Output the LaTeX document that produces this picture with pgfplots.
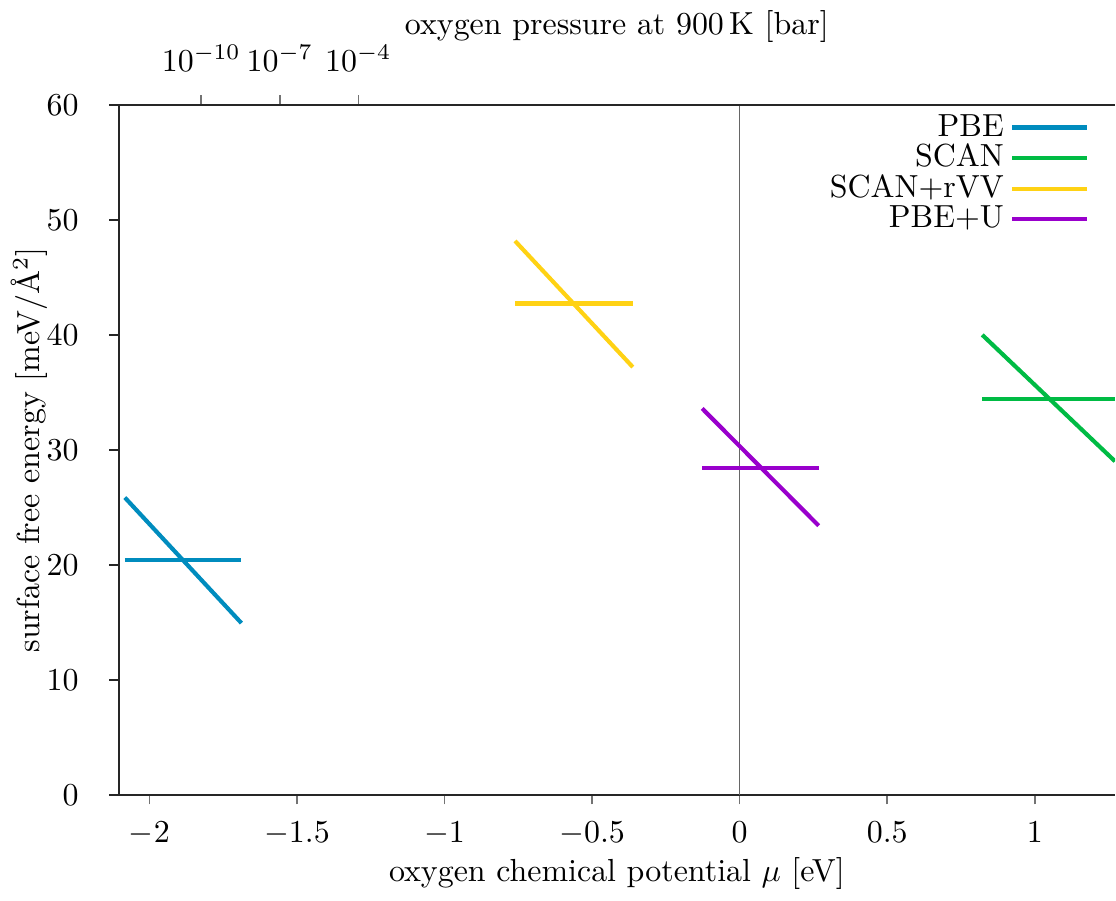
\documentclass[border=0pt]{standalone}
\usepackage{pgfplots}
\pgfplotsset{compat=1.18}
\definecolor{cPBE}{RGB}{0,140,190}
\definecolor{cSCAN}{RGB}{0,187,68}
\definecolor{cRVV}{RGB}{255,210,20}
\definecolor{cPBEU}{RGB}{153,0,204}
\begin{document}
\begin{tikzpicture}
\begin{axis}[
  name=main,
  width=312pt, height=216pt, scale only axis,
  xmin=-2.104, xmax=1.272, ymin=0, ymax=60,
  axis x line*=bottom, axis y line*=left,
  axis line style={black!85, line width=0.6pt},
  tick align=outside, tick style={black!55, line width=0.5pt},
  ytick style={black!85, line width=0.6pt},
  major tick length=3pt,
  xtick={-2,-1.5,-1,-0.5,0,0.5,1},
  ytick={0,10,20,30,40,50,60},
  xlabel={oxygen chemical potential $\mu$ [eV]},
  xlabel style={yshift=3pt},
  ylabel={surface free energy [meV/\AA$^2$]},
  ylabel style={yshift=-7pt},
  yticklabel style={xshift=-6pt},
  xticklabel style={yshift=-2pt},
  xticklabel={\pgfmathprintnumber[fixed]{\tick}},
  legend style={draw=none, fill=none, at={(0.984,1.006)}, anchor=north east, row sep=-3pt, font=\normalsize},
  legend cell align=right,
  legend plot pos=right,
  legend image code/.code={\draw[#1, line width=1.3pt] (0cm,0cm) -- (0.82cm,0cm);},
  every axis plot/.append style={line width=1.3pt},
  clip=true,
]
\addplot[black!60, line width=0.5pt, forget plot] coordinates {(0,0) (0,60)};
% PBE
\addplot[cPBE] coordinates {(-2.083,25.85) (-1.688,14.93)};
\addlegendentry{PBE}
% SCAN
\addplot[cSCAN] coordinates {(0.822,40.0) (1.272,29.0)};
\addlegendentry{SCAN}
% SCAN+rVV
\addplot[cRVV] coordinates {(-0.761,48.17) (-0.362,37.2)};
\addlegendentry{SCAN+rVV}
% PBE+U
\addplot[cPBEU] coordinates {(-0.127,33.6) (0.268,23.4)};
\addlegendentry{PBE+U}
\addplot[cPBE, forget plot] coordinates {(-2.083,20.4) (-1.688,20.4)};
\addplot[cSCAN, forget plot] coordinates {(0.822,34.45) (1.272,34.45)};
\addplot[cRVV, forget plot] coordinates {(-0.761,42.73) (-0.362,42.73)};
\addplot[cPBEU, forget plot] coordinates {(-0.127,28.4) (0.268,28.4)};
\end{axis}
\begin{axis}[
  width=312pt, height=216pt, scale only axis,
  xmin=-2.104, xmax=1.272, ymin=0, ymax=60,
  axis x line*=top, hide y axis,
  axis line style={black!85, line width=0.6pt},
  tick align=outside, tick style={black!55, line width=0.5pt},
  major tick length=3pt,
  xtick={-1.824,-1.558,-1.292},
  xticklabels={$10^{-10}$,$10^{-7}$,$10^{-4}$},
  xticklabel style={yshift=4pt},
  xlabel={oxygen pressure at 900\,K [bar]},
  xlabel style={at={(axis description cs:0.5,1)}, anchor=south, yshift=16pt},
]
\end{axis}
\end{tikzpicture}
\end{document}
